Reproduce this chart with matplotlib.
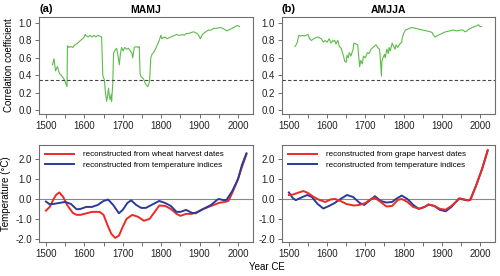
import matplotlib
matplotlib.use("Agg")
import matplotlib.pyplot as plt
from matplotlib.ticker import MultipleLocator, FormatStrFormatter

plt.rcParams['font.family'] = ['Liberation Sans', 'DejaVu Sans']
plt.rcParams['font.size'] = 7
plt.rcParams['axes.unicode_minus'] = False

# correlation, MAMJ (a)
corr_a_year = [1517, 1521, 1525, 1530, 1535, 1540, 1545, 1550, 1552, 1555, 1556, 1560, 1565,
               1570, 1575, 1580, 1585, 1590, 1595, 1600, 1602, 1606, 1610, 1615, 1620, 1625,
               1630, 1635, 1640, 1645, 1648, 1650, 1652, 1655, 1658, 1660, 1663, 1665, 1667,
               1670, 1671, 1674, 1676, 1680, 1684, 1688, 1691, 1694, 1697, 1701, 1705, 1710,
               1715, 1720, 1724, 1726, 1728, 1730, 1735, 1740, 1743, 1745, 1748, 1752, 1755,
               1758, 1761, 1765, 1768, 1770, 1773, 1776, 1780, 1785, 1790, 1795, 1799, 1802,
               1805, 1810, 1815, 1820, 1825, 1830, 1835, 1840, 1845, 1850, 1855, 1860, 1865,
               1871, 1877, 1884, 1890, 1896, 1902, 1906, 1910, 1916, 1923, 1930, 1937, 1945,
               1954, 1960, 1964, 1971, 1976, 1980, 1985, 1989, 1993, 1996, 2000, 2004]
corr_a = [0.52, 0.59, 0.45, 0.50, 0.42, 0.40, 0.37, 0.33, 0.30, 0.27, 0.74, 0.72, 0.73,
          0.72, 0.75, 0.76, 0.78, 0.80, 0.82, 0.84, 0.87, 0.85, 0.84, 0.86, 0.84, 0.86,
          0.84, 0.86, 0.85, 0.84, 0.40, 0.37, 0.35, 0.20, 0.10, 0.15, 0.25, 0.16, 0.12,
          0.18, 0.10, 0.30, 0.65, 0.69, 0.71, 0.62, 0.52, 0.65, 0.72, 0.68, 0.72, 0.70,
          0.71, 0.68, 0.65, 0.60, 0.66, 0.72, 0.73, 0.72, 0.73, 0.42, 0.38, 0.37, 0.35,
          0.31, 0.29, 0.27, 0.30, 0.35, 0.60, 0.64, 0.66, 0.70, 0.75, 0.80, 0.86, 0.82,
          0.83, 0.84, 0.82, 0.83, 0.84, 0.85, 0.86, 0.87, 0.86, 0.86, 0.87, 0.86, 0.88,
          0.88, 0.89, 0.90, 0.89, 0.87, 0.82, 0.86, 0.88, 0.90, 0.92, 0.92, 0.94, 0.94,
          0.95, 0.94, 0.93, 0.91, 0.92, 0.93, 0.94, 0.95, 0.96, 0.97, 0.97, 0.96]

# correlation, AMJJA (b)
corr_b_year = [1516, 1519, 1522, 1526, 1530, 1535, 1540, 1545, 1550, 1554, 1559, 1565, 1570,
               1575, 1580, 1585, 1590, 1595, 1600, 1605, 1610, 1615, 1617, 1620, 1623, 1628,
               1632, 1637, 1640, 1643, 1646, 1650, 1652, 1655, 1658, 1662, 1665, 1668, 1670,
               1675, 1680, 1683, 1685, 1688, 1692, 1695, 1700, 1705, 1710, 1715, 1720, 1725,
               1728, 1732, 1737, 1739, 1742, 1743, 1746, 1750, 1752, 1756, 1760, 1762, 1765,
               1770, 1775, 1778, 1780, 1785, 1790, 1795, 1796, 1800, 1805, 1810, 1816, 1822,
               1830, 1840, 1850, 1860, 1870, 1875, 1878, 1883, 1890, 1900, 1910, 1920, 1930,
               1939, 1950, 1955, 1961, 1966, 1970, 1975, 1980, 1985, 1991, 1996, 2000, 2004]
corr_b = [0.73, 0.75, 0.78, 0.86, 0.85, 0.86, 0.85, 0.86, 0.87, 0.82, 0.80, 0.82, 0.83,
          0.84, 0.83, 0.82, 0.78, 0.80, 0.78, 0.82, 0.77, 0.80, 0.79, 0.80, 0.76, 0.80,
          0.73, 0.71, 0.66, 0.62, 0.56, 0.55, 0.63, 0.60, 0.66, 0.62, 0.66, 0.70, 0.77,
          0.76, 0.75, 0.60, 0.50, 0.57, 0.53, 0.62, 0.60, 0.66, 0.65, 0.70, 0.72, 0.74,
          0.75, 0.72, 0.70, 0.60, 0.39, 0.55, 0.60, 0.64, 0.60, 0.70, 0.65, 0.72, 0.68,
          0.77, 0.72, 0.70, 0.75, 0.72, 0.76, 0.78, 0.82, 0.88, 0.92, 0.93, 0.94, 0.95,
          0.94, 0.93, 0.92, 0.91, 0.90, 0.89, 0.86, 0.84, 0.86, 0.88, 0.90, 0.91, 0.92,
          0.91, 0.92, 0.92, 0.90, 0.91, 0.93, 0.94, 0.95, 0.96, 0.97, 0.98, 0.96, 0.96]

signif = 0.35

# temperature reconstructions (a)
ta_year = [1500, 1510, 1520, 1527, 1535, 1545, 1555, 1570, 1580, 1590, 1600, 1620, 1640,
           1650, 1660, 1670, 1680, 1690, 1700, 1710, 1725, 1740, 1755, 1770, 1785, 1795,
           1810, 1825, 1840, 1850, 1865, 1880, 1895, 1910, 1930, 1950, 1965, 1975, 1985,
           2000, 2010, 2022]
wheat = [-0.59, -0.40, 0.00, 0.22, 0.33, 0.10, -0.30, -0.70, -0.80, -0.80, -0.75, -0.65, -0.65,
         -0.80, -1.30, -1.75, -1.96, -1.85, -1.40, -1.00, -0.80, -0.90, -1.10, -1.00, -0.60, -0.33,
         -0.35, -0.50, -0.75, -0.85, -0.75, -0.75, -0.65, -0.50, -0.35, -0.20, -0.15, -0.10, 0.30,
         1.00, 1.60, 2.25]
tb_year_a = [1500, 1510, 1520, 1535, 1550, 1565, 1580, 1590, 1605, 1620, 1635, 1650, 1662,
             1675, 1690, 1700, 1712, 1722, 1735, 1748, 1760, 1775, 1795, 1810, 1825, 1840,
             1850, 1865, 1880, 1890, 1900, 1915, 1930, 1945, 1950, 1960, 1970, 1985, 2000,
             2010, 2022]
indices_a = [-0.13, -0.27, -0.25, -0.20, -0.15, -0.25, -0.52, -0.50, -0.40, -0.40, -0.30, -0.10,
             -0.03, -0.30, -0.72, -0.55, -0.20, -0.07, -0.30, -0.45, -0.45, -0.30, -0.10, -0.20,
             -0.35, -0.65, -0.65, -0.55, -0.70, -0.72, -0.60, -0.45, -0.30, -0.05, 0.00, -0.05,
             -0.05, 0.40, 1.00, 1.70, 2.30]

# temperature reconstructions (b)
tb_year = [1500, 1510, 1525, 1538, 1550, 1565, 1580, 1595, 1610, 1620, 1635, 1650, 1670,
           1685, 1700, 1715, 1725, 1740, 1755, 1770, 1785, 1795, 1810, 1825, 1840, 1855,
           1865, 1880, 1895, 1910, 1925, 1945, 1950, 1965, 1975, 1990, 2005, 2020]
grape = [0.20, 0.22, 0.32, 0.40, 0.30, 0.10, -0.05, -0.15, -0.02, 0.00, -0.10, -0.25, -0.33,
         -0.30, -0.20, 0.00, 0.05, -0.15, -0.38, -0.35, -0.05, 0.00, -0.15, -0.40, -0.49, -0.40,
         -0.28, -0.35, -0.50, -0.54, -0.35, 0.00, 0.02, -0.05, -0.05, 0.70, 1.50, 2.45]
tb_year_i = [1500, 1510, 1518, 1530, 1548, 1560, 1575, 1590, 1605, 1620, 1635, 1652, 1668,
             1685, 1697, 1710, 1725, 1740, 1755, 1770, 1780, 1795, 1810, 1825, 1840, 1855,
             1865, 1880, 1895, 1910, 1925, 1945, 1960, 1970, 1975, 1990, 2005, 2020]
indices_b = [0.33, 0.05, -0.06, 0.05, 0.20, 0.10, -0.25, -0.48, -0.35, -0.20, 0.00, 0.20, 0.10,
             -0.20, -0.30, -0.10, 0.14, -0.10, -0.18, -0.15, 0.00, 0.17, 0.00, -0.30, -0.50, -0.40,
             -0.28, -0.35, -0.55, -0.62, -0.40, 0.03, -0.05, -0.08, 0.00, 0.70, 1.50, 2.45]

green = '#5dbb4a'
red = '#ee2a24'
blue = '#2a3b9a'
frame = '#6e6e6e'


def style(ax, ylim, ystep, xlabels=True):
    ax.set_xlim(1482, 2039)
    ax.set_ylim(*ylim)
    ax.xaxis.set_major_locator(MultipleLocator(100))
    ax.xaxis.set_minor_locator(MultipleLocator(50))
    ax.yaxis.set_major_locator(MultipleLocator(ystep))
    ax.yaxis.set_major_formatter(FormatStrFormatter('%.1f'))
    ax.tick_params(which='both', direction='out', length=3, width=0.7, color=frame,
                   labelsize=7, pad=2, labelcolor='#222222')
    for s in ax.spines.values():
        s.set_color(frame)
        s.set_linewidth(0.8)


fig = plt.figure(figsize=(5.0, 2.76), dpi=100)
axa = fig.add_axes([0.078, 0.587, 0.428, 0.351])
axb = fig.add_axes([0.564, 0.587, 0.426, 0.351])
axc = fig.add_axes([0.078, 0.123, 0.428, 0.351])
axd = fig.add_axes([0.564, 0.123, 0.426, 0.351])

for ax, yr, v, name, lab in [(axa, corr_a_year, corr_a, 'MAMJ', '(a)'),
                             (axb, corr_b_year, corr_b, 'AMJJA', '(b)')]:
    ax.plot(yr, v, color=green, lw=0.8)
    ax.axhline(signif, color='#444444', lw=0.8, ls=(0, (3, 2)))
    style(ax, (-0.046, 1.069), 0.2)
    ax.set_title(name, fontsize=7.5, fontweight='bold', pad=3)
    ax.text(0.0, 1.03, lab, transform=ax.transAxes, fontsize=8, fontweight='bold',
            va='bottom', ha='left')
axa.set_ylabel('Correlation coefficient', fontsize=7, labelpad=3)

axc.axhline(0, color='#888888', lw=0.8)
axc.plot(ta_year, wheat, color=red, lw=1.4, label='reconstructed from wheat harvest dates')
axc.plot(tb_year_a, indices_a, color=blue, lw=1.4, label='reconstructed from temperature indices')
axd.axhline(0, color='#888888', lw=0.8)
axd.plot(tb_year_i, indices_b, color=blue, lw=1.4, zorder=2)
axd.plot(tb_year, grape, color=red, lw=1.4, zorder=3)
axd.plot([], [], color=red, lw=1.4, label='reconstructed from grape harvest dates')
axd.plot([], [], color=blue, lw=1.4, label='reconstructed from temperature indices')

for ax in (axc, axd):
    style(ax, (-2.17, 2.71), 1.0)
    ax.legend(loc='upper left', frameon=False, fontsize=5.8, handlelength=3.6,
              handletextpad=1.2, labelspacing=0.3, borderaxespad=0.3)
axc.set_ylabel('Temperature (°C)', fontsize=7, labelpad=3)
fig.text(0.534, 0.015, 'Year CE', fontsize=7, ha='center', va='bottom')

fig.savefig('out.png', dpi=100)
